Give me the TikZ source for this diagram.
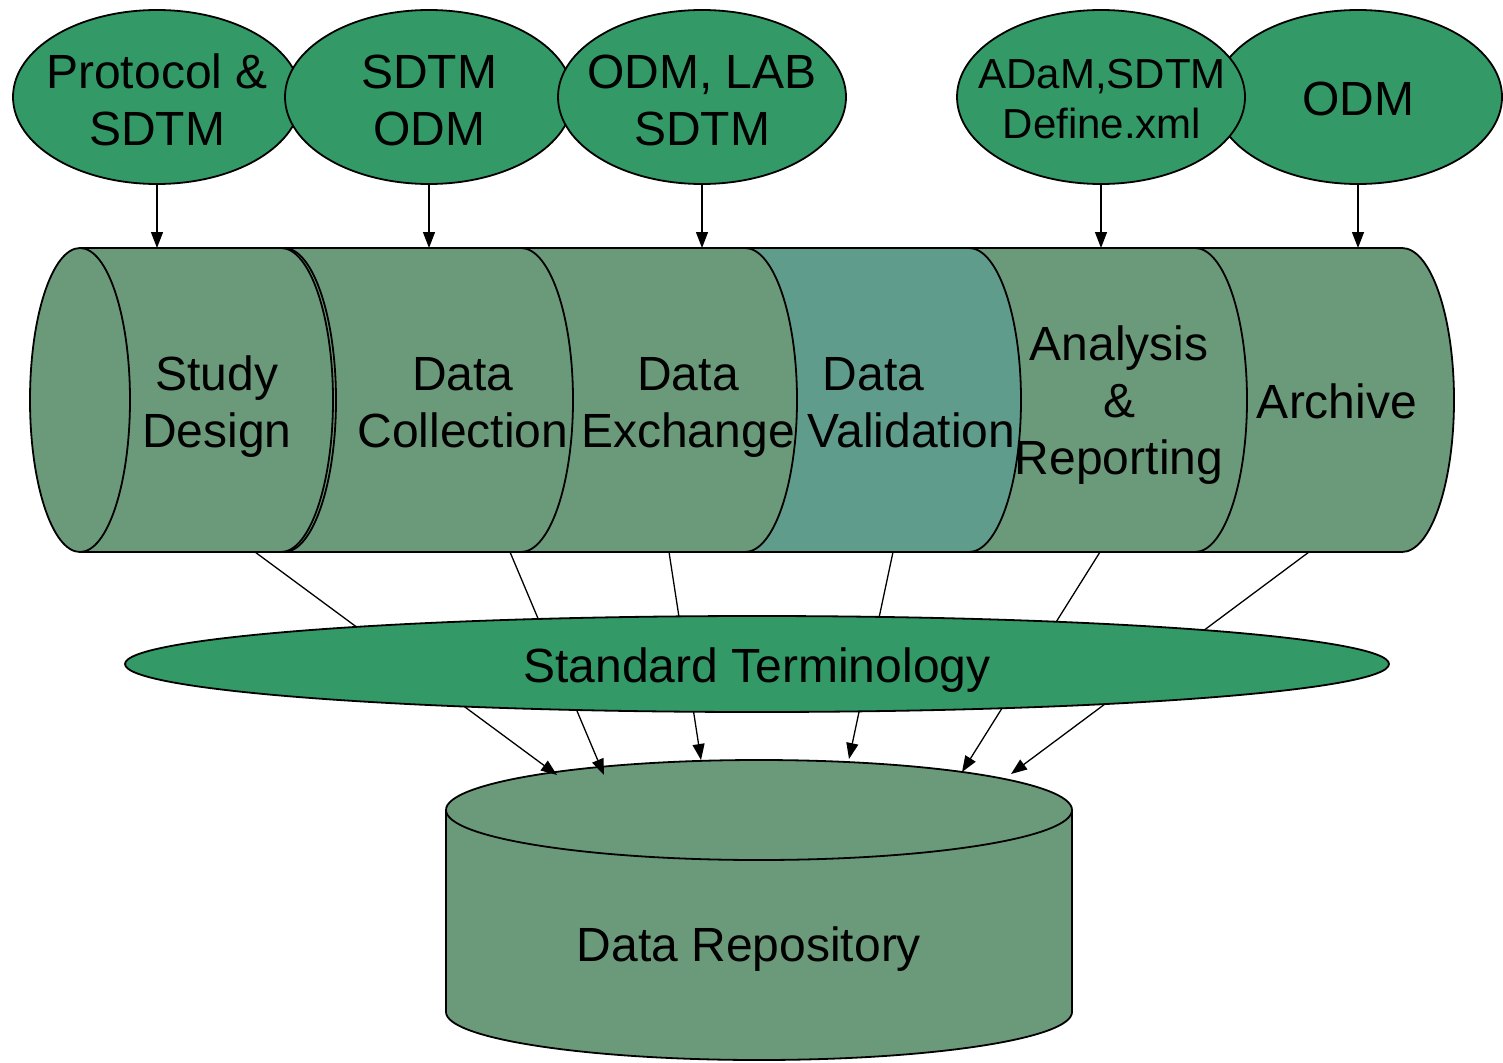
\documentclass[tikz,border=0pt]{standalone}
\usepackage{fontspec}
\setmainfont{Liberation Sans}
\usetikzlibrary{arrows.meta,shapes.geometric}
\definecolor{bubblegreen}{HTML}{339966}
\definecolor{phasegreen}{HTML}{6B9A7B}
\definecolor{phaseteal}{HTML}{609C8C}

\begin{document}
\begin{tikzpicture}[x=1pt,y=1pt,
  outline/.style={draw=black,line width=1.8pt},
  bubble/.style={outline,fill=bubblegreen,ellipse,inner sep=0pt,
                 minimum width=288pt,minimum height=174pt},
  phase/.style={outline,fill=phasegreen},
  lbl/.style={font=\fontsize{48}{57}\selectfont,align=center,inner sep=0pt,anchor=base},
  smalllbl/.style={lbl,font=\fontsize{42}{51}\selectfont},
  flow/.style={line width=1.3pt,-{Triangle[length=16pt,width=12pt]}}
]
\useasboundingbox (0,0) rectangle (1503,-1062);

% ---- source documents feeding each phase (labels anchored on their last baseline)
\node[bubble] (src1) at (157,-97) {};
\node[bubble] (src2) at (429,-97) {};
\node[bubble] (src3) at (702,-97) {};
\node[bubble] (src5) at (1358,-97) {};
\node[bubble] (src4) at (1101,-97) {};
\node[lbl] (src1t) at (157,-145) {Protocol \&\\SDTM};
\node[lbl] (src2t) at (429,-145) {SDTM\\ODM};
\node[lbl] (src3t) at (702,-145) {ODM, LAB\\SDTM};
\node[smalllbl] (src4t) at (1102,-139) {ADaM,SDTM\\Define.xml};
\node[lbl] (src5t) at (1358,-115) {ODM};

% ---- the pipeline of phases, drawn right to left so each end cap overlaps its neighbour
\coordinate (rowtop) at (0,-248);
\filldraw[phase] (1195,-248) -- (1402,-248)
  arc[start angle=90,end angle=-90,x radius=52,y radius=152] -- (1195,-552)
  arc[start angle=270,end angle=90,x radius=52,y radius=152] -- cycle;
\filldraw[phase] (969,-248) -- (1195,-248)
  arc[start angle=90,end angle=-90,x radius=52,y radius=152] -- (969,-552)
  arc[start angle=270,end angle=90,x radius=52,y radius=152] -- cycle;
\filldraw[phase,fill=phaseteal] (745,-248) -- (969,-248)
  arc[start angle=90,end angle=-90,x radius=52,y radius=152] -- (745,-552)
  arc[start angle=270,end angle=90,x radius=52,y radius=152] -- cycle;
\filldraw[phase] (521,-248) -- (745,-248)
  arc[start angle=90,end angle=-90,x radius=52,y radius=152] -- (521,-552)
  arc[start angle=270,end angle=90,x radius=52,y radius=152] -- cycle;
\filldraw[phase] (284,-248) -- (521,-248)
  arc[start angle=90,end angle=-90,x radius=52,y radius=152] -- (284,-552)
  arc[start angle=270,end angle=90,x radius=52,y radius=152] -- cycle;
\draw[outline] (284,-248) arc[start angle=90,end angle=-90,x radius=52,y radius=152];
\filldraw[phase] (80,-248) -- (281,-248)
  arc[start angle=90,end angle=-90,x radius=52,y radius=152] -- (80,-552)
  arc[start angle=270,end angle=90,x radius=50,y radius=152] -- cycle;
\draw[outline] (80,-248) arc[start angle=90,end angle=-90,x radius=50,y radius=152];

\node[lbl] (study) at (217,-447) {Study\\Design};
\node[lbl] (collect) at (463,-447) {Data\\Collection};
\node[lbl] (exchange) at (688,-447) {Data\\Exchange};
\node[lbl,align=left] (valid) at (911.5,-447) {\hspace*{15pt}Data\\Validation};
\node[lbl] (report) at (1119,-474) {Analysis\\\&\\Reporting};
\node[lbl] (archive) at (1337,-418) {Archive};

% ---- inputs into the phases
\draw[flow] (src1.south) -- (src1.south |- rowtop);
\draw[flow] (src2.south) -- (src2.south |- rowtop);
\draw[flow] (src3.south) -- (src3.south |- rowtop);
\draw[flow] (src4.south) -- (src4.south |- rowtop);
\draw[flow] (src5.south) -- (src5.south |- rowtop);

% ---- data repository
\filldraw[phase] (446,-810) -- (446,-1012)
  arc[start angle=180,end angle=360,x radius=313,y radius=48] -- (1072,-810)
  arc[start angle=0,end angle=180,x radius=313,y radius=50] -- cycle;
\draw[outline] (446,-810) arc[start angle=180,end angle=360,x radius=313,y radius=50];
\node[lbl] (repo) at (749,-961) {Data Repository};

% ---- flows from each phase into the repository
\coordinate (o1) at (255,-552);  \coordinate (i1) at (557,-775);
\coordinate (o2) at (510,-552);  \coordinate (i2) at (604,-775);
\coordinate (o3) at (669,-552);  \coordinate (i3) at (701,-760);
\coordinate (o4) at (893,-552);  \coordinate (i4) at (849,-759);
\coordinate (o5) at (1100,-552); \coordinate (i5) at (962,-772);
\coordinate (o6) at (1309,-552); \coordinate (i6) at (1011,-774);
\foreach \k in {1,...,6} \draw[flow] (o\k) -- (i\k);

% ---- shared terminology band lying over the flows
\node[outline,fill=bubblegreen,ellipse,inner sep=0pt,
      minimum width=1264pt,minimum height=96pt] (terms) at (757,-664) {};
\node[lbl] (termst) at (757,-682) {Standard Terminology};
\end{tikzpicture}
\end{document}
